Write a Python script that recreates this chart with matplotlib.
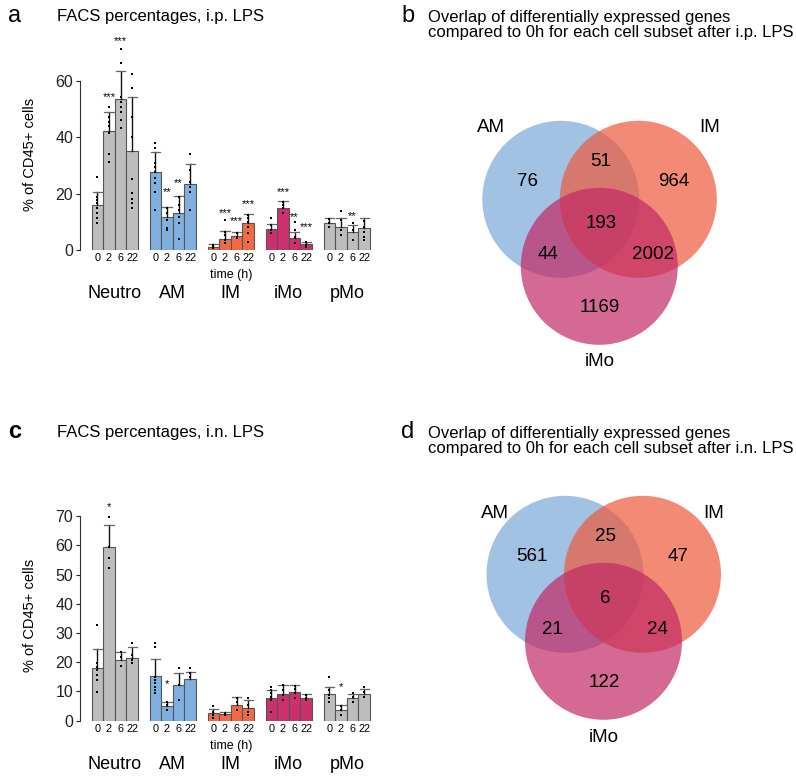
import matplotlib
matplotlib.use("Agg")
import matplotlib.pyplot as plt
from matplotlib.patches import Circle
import numpy as np

plt.rcParams['font.family'] = ['Liberation Sans', 'DejaVu Sans']

# ---------------- data ----------------
groups = ['Neutro', 'AM', 'IM', 'iMo', 'pMo']
times = ['0', '2', '6', '22']
group_colors = ['#bdbdbd', '#7fb0e0', '#f26a45', '#cc2f6e', '#bdbdbd']

ip_mean = [[16.0, 42.4, 53.5, 35.3],
           [27.8, 11.8, 13.0, 23.3],
           [1.2, 3.9, 5.0, 9.5],
           [7.3, 15.0, 4.1, 2.0],
           [9.5, 8.3, 6.5, 7.7]]
ip_err_top = [[20.5, 49.1, 63.5, 54.2],
              [34.7, 15.1, 19.2, 30.5],
              [2.0, 6.6, 6.3, 12.7],
              [9.1, 17.5, 6.5, 3.0],
              [11.2, 11.2, 8.9, 11.2]]
ip_points = [
    [[26.0, 18.9, 17.8, 16.6, 14.8, 13.0, 11.2, 9.7],
     [50.7, 47.3, 45.6, 44.0, 41.4, 34.1, 31.4],
     [71.2, 66.5, 54.4, 52.7, 50.9, 49.1, 46.2, 43.2],
     [62.5, 57.4, 47.1, 40.0, 25.1, 20.4, 18.0, 16.6, 14.8]],
    [[38.1, 36.1, 30.8, 29.6, 27.8, 25.4, 23.7, 20.7, 14.2],
     [14.8, 13.0, 10.7, 7.7, 7.1],
     [18.9, 16.0, 14.2, 11.8, 9.5, 3.8],
     [34.1, 28.4, 24.3, 22.5, 20.7, 14.2]],
    [[1.8, 0.9, 0.6],
     [10.7, 6.5, 5.3, 3.6, 2.4],
     [5.9, 4.7, 4.1],
     [12.4, 11.2, 10.1, 8.3, 5.9, 3.0]],
    [[11.2, 8.9, 7.1, 5.9],
     [17.2, 16.0, 14.8, 13.0],
     [9.8, 7.1, 4.7, 2.4],
     [3.0, 1.8, 1.2]],
    [[10.9, 9.7, 8.3],
     [13.8, 10.7, 7.1, 5.3],
     [9.5, 7.1, 3.6],
     [10.4, 8.3, 6.5, 4.7, 3.6]],
]
# (group index, time index, label, y)
ip_stars = [(0, 1, '***', 54.4), (0, 2, '***', 74.0), (1, 1, '**', 20.4),
            (1, 2, '**', 23.9), (2, 1, '***', 13.0), (2, 2, '***', 10.4),
            (2, 3, '***', 16.3), (3, 1, '***', 20.7), (3, 2, '**', 11.6),
            (3, 3, '***', 8.0), (4, 2, '**', 12.2)]

in_mean = [[18.2, 59.3, 20.8, 21.5],
           [15.4, 5.2, 12.2, 14.3],
           [2.5, 2.3, 5.4, 4.3],
           [7.9, 9.1, 9.7, 7.9],
           [9.0, 3.6, 7.6, 9.0]]
in_err_top = [[24.7, 66.9, 23.6, 25.3],
              [21.2, 6.5, 16.4, 16.8],
              [4.0, 2.9, 8.2, 7.1],
              [10.5, 12.2, 12.2, 9.3],
              [11.6, 5.4, 9.3, 10.7]]
in_points = [
    [[32.7, 19.6, 18.5, 17.3, 15.6, 13.9, 9.9],
     [69.8, 59.5, 55.5, 52.1],
     [23.6, 21.9, 18.8],
     [26.7, 22.5, 20.8, 19.6]],
    [[26.7, 25.3, 15.1, 13.9, 12.8, 11.6, 10.5, 9.4],
     [6.5, 5.4, 3.6],
     [17.9, 12.2, 7.1],
     [17.9, 16.2, 15.1]],
    [[5.0, 3.1, 1.9, 0.8],
     [2.5, 1.9],
     [7.6, 6.5, 3.6],
     [7.6, 5.4, 3.1, 1.9]],
    [[11.6, 10.5, 9.4, 8.2, 7.1, 3.1],
     [12.2, 10.5, 8.8, 7.1],
     [12.0, 10.7, 9.4, 7.6],
     [8.8, 7.9, 7.1]],
    [[15.1, 10.5, 8.8, 7.6, 6.5],
     [5.0, 3.6, 1.9],
     [9.4, 8.2, 6.5],
     [11.4, 9.9, 8.2]],
]
in_stars = [(0, 1, '*', 73.2), (1, 1, '*', 12.5), (4, 1, '*', 11.4)]

venn_labels = ['AM', 'IM', 'iMo']
venn_colors = ['#7aa8d7', '#ee593b', '#c22966']
# order: AM only, AM&IM, IM only, all, AM&iMo, IM&iMo, iMo only
venn_ip = [76, 51, 964, 193, 44, 2002, 1169]
venn_in = [561, 25, 47, 6, 21, 24, 122]

W, H = 796, 781
fig = plt.figure(figsize=(W / 100, H / 100), dpi=100)


def bar_panel(bottom_px, px_per_unit, ymax_spine, ymax, yticks, mean, err, pts, stars,
              ylab_y):
    left_px = 80
    xlo, xhi = -1.5, 24.0
    upx = 11.6
    width_px = (xhi - xlo) * upx
    height_px = ymax * px_per_unit
    ax = fig.add_axes([left_px / W, (H - bottom_px) / H, width_px / W, height_px / H])
    ax.set_xlim(xlo, xhi)
    ax.set_ylim(0, ymax)
    for s in ['top', 'right', 'bottom']:
        ax.spines[s].set_visible(False)
    ax.spines['left'].set_bounds(0, ymax_spine)
    ax.spines['left'].set_linewidth(0.8)
    ax.spines['left'].set_color('#333333')
    ax.set_yticks(yticks)
    ax.tick_params(axis='y', length=3, width=0.8, pad=2, labelsize=11.5, colors='#222222')
    xt, xl = [], []
    for g in range(len(groups)):
        xs = np.arange(4) + g * 5
        ax.bar(xs, mean[g], width=1.0, color=group_colors[g], edgecolor='#555555',
               linewidth=0.8, zorder=2)
        for i, x in enumerate(xs):
            ax.plot([x, x], [mean[g][i], err[g][i]], color='#111111', lw=1.0, zorder=3)
            ax.plot([x - 0.4, x + 0.4], [err[g][i], err[g][i]], color='#666666', lw=0.9, zorder=3)
            ax.plot([x] * len(pts[g][i]), pts[g][i], 's', color='black', ms=2.0,
                    mew=0, zorder=4)
            xt.append(x)
            xl.append(times[i])
        ax.annotate(groups[g], xy=(g * 5 + 1.5, 0), xycoords=('data', 'axes fraction'),
                    xytext=(0, -44 * 0.72), textcoords='offset points',
                    ha='center', va='center', fontsize=13)
    ax.annotate('time (h)', xy=(2 * 5 + 1.5, 0), xycoords=('data', 'axes fraction'),
                xytext=(0, -25 * 0.72), textcoords='offset points',
                ha='center', va='center', fontsize=9)
    ax.set_xticks(xt)
    ax.set_xticklabels(xl)
    ax.tick_params(axis='x', length=0, pad=2.5, labelsize=7.8)
    for g, i, lab, y in stars:
        ax.text(g * 5 + i, y, lab, ha='center', va='center', fontsize=8)
    ax.set_ylabel('% of CD45+ cells', fontsize=10.5)
    ax.yaxis.set_label_coords(-43 / width_px, ylab_y)
    return ax


bar_panel(250, 2.817, 60, 78, [0, 20, 40, 60], ip_mean, ip_err_top, ip_points, ip_stars, 0.437)
bar_panel(720.7, 2.923, 70, 76, [0, 10, 20, 30, 40, 50, 60, 70], in_mean, in_err_top,
          in_points, in_stars, 0.473)

# overlay in pixel coordinates for venns and texts
ov = fig.add_axes([0, 0, 1, 1], zorder=-1)
ov.set_xlim(0, W)
ov.set_ylim(H, 0)
ov.axis('off')
ov.patch.set_alpha(0)


def venn(cx_am, cy_top, counts, lab_y_top, lab_y_bot):
    r = 78.5
    centers = [(cx_am, cy_top), (cx_am + 77.5, cy_top), (cx_am + 38.5, cy_top + 67)]
    for (cx, cy), c in zip(centers, venn_colors):
        ov.add_patch(Circle((cx, cy), r, facecolor=c, edgecolor='none', alpha=0.7))
    offs = [(-33, -18), (40, -38), (113, -18), (40, 24), (-13, 55), (92, 55), (39, 108)]
    for (dx, dy), n in zip(offs, counts):
        ov.text(cx_am + dx, cy_top + dy, str(n), ha='center', va='center', fontsize=13.5)
    ov.text(cx_am - 70, lab_y_top, venn_labels[0], ha='center', va='center', fontsize=13.5)
    ov.text(cx_am + 149, lab_y_top, venn_labels[1], ha='center', va='center', fontsize=13.5)
    ov.text(cx_am + 39, lab_y_bot, venn_labels[2], ha='center', va='center', fontsize=13.5)


venn(560.8, 199.3, venn_ip, 128, 362)
venn(565.0, 574.3, venn_in, 513, 738)

# panel letters and titles
ov.text(8, 16, 'a', ha='left', va='center', fontsize=17)
ov.text(57, 16, 'FACS percentages, i.p. LPS', ha='left', va='center', fontsize=12)
ov.text(8, 432, 'c', ha='left', va='center', fontsize=17, fontweight='bold')
ov.text(57, 432, 'FACS percentages, i.n. LPS', ha='left', va='center', fontsize=12)
ov.text(401, 16, 'b', ha='left', va='center', fontsize=17)
ov.text(428, 25, 'Overlap of differentially expressed genes\ncompared to 0h for each cell subset after i.p. LPS',
        ha='left', va='center', fontsize=12, linespacing=1.0)
ov.text(401, 432, 'd', ha='left', va='center', fontsize=17)
ov.text(428, 441, 'Overlap of differentially expressed genes\ncompared to 0h for each cell subset after i.n. LPS',
        ha='left', va='center', fontsize=12, linespacing=1.0)

fig.savefig('out.png', dpi=100)
